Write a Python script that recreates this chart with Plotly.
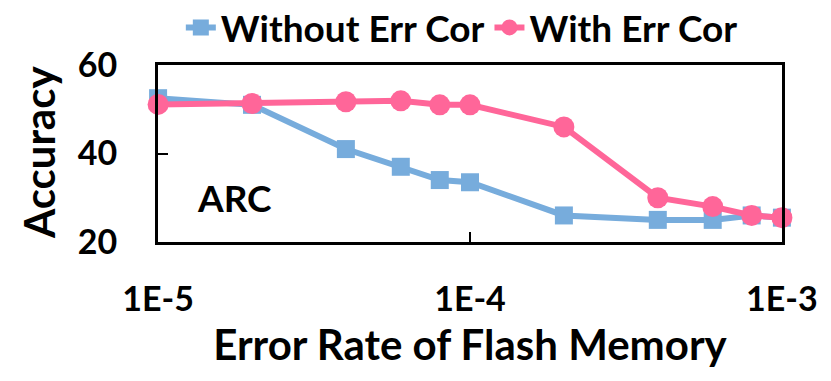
import plotly.graph_objects as go

error_rates = [1e-5, 2e-5, 4e-5, 6e-5, 8e-5, 1e-4, 2e-4, 4e-4, 6e-4, 8e-4, 1e-3]
without_err_cor = [52.5, 51, 41, 37, 34, 33.5, 26, 25, 25, 26, 25.5]
with_err_cor = [51.1, 51.3, 51.7, 51.9, 51, 51, 46, 30, 28, 26, 25.5]
x_tick_vals = [1e-5, 1e-4, 1e-3]
x_tick_text = ["1E-5", "1E-4", "1E-3"]
y_tick_vals = [20, 40, 60]

FONT = "Lato"
BLUE = "#77ACDC"
PINK = "#FF6699"

fig = go.Figure()
fig.add_trace(go.Scatter(
    x=error_rates, y=without_err_cor, name="Without Err Cor",
    mode="lines+markers",
    line=dict(color=BLUE, width=6),
    marker=dict(symbol="square", size=18, color=BLUE),
    cliponaxis=False,
))
fig.add_trace(go.Scatter(
    x=error_rates, y=with_err_cor, name="With Err Cor",
    mode="lines+markers",
    line=dict(color=PINK, width=6),
    marker=dict(symbol="circle", size=21, color=PINK),
    cliponaxis=False,
))

fig.update_layout(
    width=823, height=373,
    margin=dict(l=150, r=49, t=57, b=139, autoexpand=False),
    plot_bgcolor="white", paper_bgcolor="white",
    font=dict(family=FONT, color="black", size=30),
    showlegend=True,
    legend=dict(
        orientation="h", x=0.21, xanchor="left", y=1.21, yanchor="middle",
        xref="container", yref="paper", bgcolor="rgba(0,0,0,0)",
        font=dict(family=FONT, size=37, color="black", weight="bold"),
        itemwidth=30, tracegroupgap=0,
    ),
    xaxis=dict(
        type="log", range=[-5.0003, -2.9997], automargin=False,
        tickvals=x_tick_vals, ticktext=x_tick_text,
        ticks="inside", ticklen=10, tickwidth=2, tickcolor="black",
        showline=True, linecolor="black", linewidth=3, mirror=True,
        showgrid=False, zeroline=False,
        ticklabelstandoff=25,
        tickfont=dict(family=FONT, size=34, weight="bold"),
        title=dict(text="Error Rate of Flash Memory", standoff=14,
                   font=dict(family=FONT, size=42, weight="bold")),
    ),
    yaxis=dict(
        range=[20, 60], tickvals=y_tick_vals, automargin=False,
        ticks="inside", ticklen=10, tickwidth=2, tickcolor="black",
        showline=True, linecolor="black", linewidth=3, mirror=True,
        showgrid=False, zeroline=False,
        ticklabelstandoff=31,
        tickfont=dict(family=FONT, size=34, weight="bold"),
    ),
    annotations=[
        dict(
            text="ARC", x=0.123, y=0.25, xref="paper", yref="paper",
            xanchor="center", yanchor="middle",
            showarrow=False, font=dict(family=FONT, size=37, weight="bold", color="black"),
        ),
        dict(
            text="Accuracy", x=-0.1907, y=0.503, xref="paper", yref="paper",
            xanchor="center", yanchor="middle", textangle=-90,
            showarrow=False, font=dict(family=FONT, size=42, weight="bold", color="black"),
        ),
    ],
)

fig.write_html("out.html")
